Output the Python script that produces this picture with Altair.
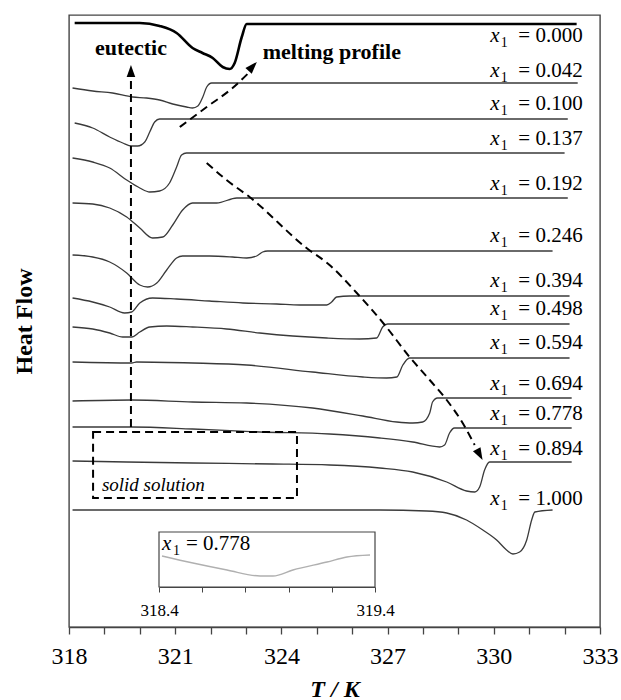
import altair as alt
import pandas as pd

FONT = "Liberation Serif"

# ---------------- data (T in K, heat flow in arbitrary units, stacked) ----------------
compositions = ["0.000", "0.042", "0.100", "0.137", "0.192", "0.246", "0.394",
                "0.498", "0.594", "0.694", "0.778", "0.894", "1.000"]

T_000 = [318.16, 320.00, 320.56, 321.04, 321.49, 321.77, 322.06, 322.34, 322.54, 322.68, 322.88, 323.02, 332.34]
HF_000 = [60.4, 60.4, 60.1, 59.4, 57.9, 57.4, 56.9, 56.0, 55.8, 56.4, 59.0, 60.3, 60.3]

T_042 = [318.10, 318.67, 319.23, 319.80, 320.19, 320.56, 320.93, 321.32, 321.49, 321.64, 321.78, 321.89, 322.03, 332.37]
HF_042 = [53.9, 53.6, 53.4, 53.0, 52.9, 52.7, 52.3, 52.0, 51.9, 52.1, 53.0, 54.0, 54.4, 54.4]

T_100 = [318.16, 318.67, 319.15, 319.52, 319.77, 319.94, 320.14, 320.28, 320.42, 320.56, 332.09]
HF_100 = [50.4, 49.9, 49.0, 48.4, 48.1, 48.1, 48.5, 49.5, 50.5, 50.8, 50.8]

T_137 = [318.10, 318.67, 319.15, 319.63, 320.00, 320.28, 320.56, 320.84, 321.04, 321.18, 321.32, 332.00]
HF_137 = [46.9, 46.5, 45.9, 44.7, 43.9, 43.5, 43.6, 44.4, 46.0, 47.2, 47.4, 47.4]

T_192 = [318.10, 318.67, 319.15, 319.63, 320.00, 320.36, 320.65, 320.93, 321.21, 321.49, 322.17, 322.74, 323.02, 332.09]
HF_192 = [42.4, 42.3, 41.9, 41.0, 39.9, 38.9, 39.0, 40.2, 41.7, 42.4, 42.4, 42.9, 42.9, 42.9]

T_246 = [318.10, 318.67, 319.15, 319.63, 320.00, 320.22, 320.48, 320.76, 321.04, 321.21, 321.97, 322.62, 323.02, 323.30, 323.47, 323.61, 331.66]
HF_246 = [37.2, 37.0, 36.5, 35.4, 34.2, 34.0, 34.4, 35.7, 36.9, 37.1, 37.1, 37.0, 36.9, 37.1, 37.5, 37.6, 37.6]

T_394 = [318.10, 318.67, 319.15, 319.57, 319.77, 320.00, 320.36, 321.04, 321.97, 322.91, 323.87, 324.52, 325.28, 325.42, 325.56, 325.93, 332.14]
HF_394 = [32.9, 32.5, 32.0, 31.4, 31.5, 32.4, 32.9, 32.8, 32.6, 32.4, 32.3, 32.2, 32.2, 32.5, 33.0, 33.1, 33.1]

T_498 = [318.10, 318.67, 319.15, 319.52, 319.77, 320.00, 320.28, 320.76, 321.49, 322.45, 323.39, 324.32, 325.28, 326.21, 326.69, 326.86, 327.00, 332.14]
HF_498 = [30.0, 29.8, 29.4, 29.0, 29.0, 29.5, 30.0, 30.1, 30.0, 29.8, 29.4, 29.1, 28.9, 28.8, 28.9, 30.0, 30.3, 30.3]

T_594 = [318.10, 319.77, 319.91, 321.49, 323.02, 324.88, 326.30, 326.97, 327.26, 327.43, 327.62, 332.14]
HF_594 = [26.5, 26.4, 26.5, 26.4, 26.2, 25.5, 25.0, 24.9, 25.0, 26.2, 26.9, 26.9]

T_694 = [318.10, 319.77, 321.49, 323.02, 324.88, 326.30, 327.26, 327.71, 327.99, 328.19, 328.27, 328.41, 332.20]
HF_694 = [22.6, 22.7, 22.5, 22.4, 21.9, 21.1, 20.5, 20.4, 20.5, 21.4, 22.5, 22.9, 22.9]

T_778 = [318.10, 319.77, 321.49, 323.39, 325.36, 326.78, 327.71, 328.47, 328.61, 328.75, 328.89, 332.20]
HF_778 = [20.0, 20.0, 19.8, 19.5, 19.3, 18.9, 18.5, 18.0, 18.2, 19.4, 19.9, 19.9]

T_894 = [318.10, 319.63, 321.49, 323.75, 325.36, 326.78, 327.71, 328.67, 329.23, 329.46, 329.60, 329.74, 329.88, 332.20]
HF_894 = [16.6, 16.5, 16.4, 16.3, 16.2, 15.9, 15.5, 14.5, 13.6, 13.5, 14.0, 15.7, 16.5, 16.5]

T_1000 = [318.10, 326.78, 328.10, 328.67, 329.23, 329.69, 330.08, 330.36, 330.54, 330.73, 330.93, 331.07, 331.16, 331.66]
HF_1000 = [11.7, 11.7, 11.6, 11.4, 10.7, 9.7, 8.7, 7.7, 7.3, 7.5, 8.7, 10.7, 11.5, 11.7]

# label anchors (right end of each "x1 = ..." label)
label_T = 332.51
label_hf = [58.5, 55.0, 51.7, 48.2, 43.7, 38.5, 34.0, 31.2, 27.8, 23.7, 20.7, 17.2, 12.2]

# inset (x1 = 0.778, 318.4 - 319.4 K)
inset_T = [318.414, 318.557, 318.715, 318.868, 318.928, 319.02, 319.178, 319.27, 319.377]
inset_hf = [7.1, 6.4, 5.7, 5.1, 5.1, 5.7, 6.5, 7.0, 7.2]
inset_ticks = [318.4, 318.6, 318.8, 319.0, 319.2, 319.4]
main_ticks = list(range(318, 334))

# dashed guide arrows
eutectic_T = [319.75, 319.75]
eutectic_hf = [20.0, 55.3]
melting_T = [321.13, 321.89, 322.62, 323.10]
melting_hf = [50.0, 52.0, 53.9, 55.5]
trend_T = [321.89, 322.45, 323.10, 324.71, 325.36, 326.13, 326.92, 327.62, 328.19, 328.67, 329.12, 329.46]
trend_hf = [46.4, 44.7, 43.0, 37.9, 36.2, 33.4, 30.2, 27.0, 24.7, 22.7, 20.4, 18.2]
head_T = [319.75, 323.19, 329.60]
head_hf = [55.6, 56.06, 17.23]
head_angle = [0, 42.7, 151.6]

# ---------------- tables ----------------
curve_T = [T_000, T_042, T_100, T_137, T_192, T_246, T_394, T_498, T_594, T_694, T_778, T_894, T_1000]
curve_HF = [HF_000, HF_042, HF_100, HF_137, HF_192, HF_246, HF_394, HF_498, HF_594, HF_694, HF_778, HF_894, HF_1000]

rows = []
for comp, ts, hs in zip(compositions, curve_T, curve_HF):
    for i, (t, h) in enumerate(zip(ts, hs)):
        rows.append({"comp": comp, "i": i, "T": t, "hf": h})
curves = pd.DataFrame(rows)

labels = pd.DataFrame({"comp": compositions, "T": [label_T] * len(compositions),
                       "hf": label_hf, "eq": ["= " + c for c in compositions]})

arrow_rows = []
for name, ts, hs in [("melting", melting_T, melting_hf), ("trend", trend_T, trend_hf)]:
    for i, (t, h) in enumerate(zip(ts, hs)):
        arrow_rows.append({"arrow": name, "i": i, "T": t, "hf": h})
arrows = pd.DataFrame(arrow_rows)
eutectic = pd.DataFrame({"T": eutectic_T, "hf": eutectic_hf})
heads = pd.DataFrame({"T": head_T, "hf": head_hf, "ang": head_angle})

box = pd.DataFrame({"T": [318.68], "T2": [324.44], "hf": [12.9], "hf2": [19.5]})
note_eut = pd.DataFrame({"T": [319.75], "hf": [57.2], "txt": ["eutectic"]})
note_melt = pd.DataFrame({"T": [323.47], "hf": [56.8], "txt": ["melting profile"]})
note_ss = pd.DataFrame({"T": [318.93], "hf": [13.6], "txt": ["solid solution"]})

inset_df = pd.DataFrame({"T": inset_T, "hf": inset_hf})
inset_frame = pd.DataFrame({"T": [318.4], "T2": [319.4], "hf": [4.0], "hf2": [9.5]})
inset_lab = pd.DataFrame({"T": [318.414], "hf": [7.7]})

# ---------------- scales / encodings ----------------
xs = alt.Scale(domain=[318, 333], nice=False, zero=False)
ys = alt.Scale(domain=[0, 61.2], nice=False, zero=False)

main_axis = alt.Axis(values=main_ticks, tickCount=16,
                     labelExpr="datum.value % 3 === 0 ? datum.label : ''",
                     labelOverlap=False, labelFlush=False,
                     grid=False, tickSize=7, tickColor="#444", domainColor="#444",
                     domainWidth=1.3, tickWidth=1.3,
                     labelFont=FONT, labelFontSize=24, labelColor="black",
                     labelPadding=10, titleFont=FONT, titleFontSize=24,
                     titleFontWeight="bold", titleFontStyle="italic",
                     titleColor="black", titlePadding=9)
X = alt.X("T:Q", scale=xs, title="T / K", axis=main_axis)
Y = alt.Y("hf:Q", scale=ys, title="Heat Flow",
          axis=alt.Axis(labels=False, ticks=False, domain=False, grid=False,
                        titleFont=FONT, titleFontSize=24, titleFontWeight="bold",
                        titleColor="black", titlePadding=33))

base = alt.Chart(curves)
thin = base.transform_filter(alt.datum.comp != "0.000").mark_line(
    interpolate="monotone", color="#3a3a3a", strokeWidth=1.3
).encode(x=X, y=Y, detail="comp:N", order="i:Q")
thick = base.transform_filter(alt.datum.comp == "0.000").mark_line(
    interpolate="monotone", color="black", strokeWidth=2.6
).encode(x=X, y=Y, order="i:Q")

lab_eq = alt.Chart(labels).mark_text(align="right", baseline="alphabetic", font=FONT,
                                     fontSize=21, color="black").encode(
    x=X, y=Y, text="eq:N")
lab_sub = alt.Chart(labels).mark_text(align="right", baseline="alphabetic", font=FONT,
                                      fontSize=14, color="black", dx=-75, dy=5).encode(
    x=X, y=Y, text=alt.value("1"))
lab_x = alt.Chart(labels).mark_text(align="right", baseline="alphabetic", font=FONT,
                                    fontSize=21, fontStyle="italic", color="black",
                                    dx=-83).encode(
    x=X, y=Y, text=alt.value("x"))

dash = [8, 5]
eut_line = alt.Chart(eutectic).mark_line(color="black", strokeWidth=2, strokeDash=dash).encode(
    x=X, y=Y)
arrow_lines = alt.Chart(arrows).mark_line(color="black", strokeWidth=2, strokeDash=dash,
                                          interpolate="monotone").encode(
    x=X, y=Y, detail="arrow:N", order="i:Q")
arrow_heads = alt.Chart(heads).mark_point(shape="M0,-1L0.7,1L-0.7,1Z", filled=True,
                                          color="black", opacity=1, size=150).encode(
    x=X, y=Y, angle=alt.Angle("ang:Q", scale=None))

box_mark = alt.Chart(box).mark_rect(fillOpacity=0, stroke="black", strokeWidth=2,
                                    strokeDash=dash).encode(
    x=X, x2="T2:Q", y=Y, y2="hf2:Q")

t_eut = alt.Chart(note_eut).mark_text(align="center", baseline="alphabetic", font=FONT, fontSize=22,
                                      fontWeight="bold", color="black").encode(
    x=X, y=Y, text="txt:N")
t_melt = alt.Chart(note_melt).mark_text(align="left", baseline="alphabetic", font=FONT, fontSize=22,
                                        fontWeight="bold", color="black").encode(
    x=X, y=Y, text="txt:N")
t_ss = alt.Chart(note_ss).mark_text(align="left", baseline="alphabetic", font=FONT, fontSize=19,
                                    fontStyle="italic", color="black").encode(
    x=X, y=Y, text="txt:N")

main = alt.layer(thin, thick, lab_eq, lab_sub, lab_x, eut_line, arrow_lines, arrow_heads,
                 box_mark, t_eut, t_melt, t_ss)

# ---------------- inset ----------------
XI = alt.X("T:Q", scale=alt.Scale(domain=[318.4, 319.4], range=[90, 306], nice=False, zero=False),
           title=None,
           axis=alt.Axis(orient="bottom", offset=-40, values=inset_ticks, format=".1f",
                         labelExpr="(datum.value < 318.45 || datum.value > 319.35) ? datum.label : ''",
                         grid=False, tickSize=5, tickColor="#444", domainColor="#444",
                         labelFont=FONT, labelFontSize=17, labelColor="black",
                         labelPadding=10, labelFlush=False, labelOverlap=False))
inset_frame_mark = alt.Chart(inset_frame).mark_rect(fillOpacity=0, stroke="#444", strokeWidth=1.2).encode(
    x=XI, x2="T2:Q", y=Y, y2="hf2:Q")
inset_line = alt.Chart(inset_df).mark_line(color="#b0b0b0", strokeWidth=1.4, interpolate="monotone").encode(
    x=XI, y=Y)
in_x = alt.Chart(inset_lab).mark_text(align="left", baseline="alphabetic", font=FONT, fontSize=21,
                                      fontStyle="italic", color="black").encode(
    x=XI, y=Y, text=alt.value("x"))
in_sub = alt.Chart(inset_lab).mark_text(align="left", baseline="alphabetic", font=FONT, fontSize=14,
                                        color="black", dx=11, dy=5).encode(
    x=XI, y=Y, text=alt.value("1"))
in_eq = alt.Chart(inset_lab).mark_text(align="left", baseline="alphabetic", font=FONT, fontSize=21,
                                       color="black", dx=24).encode(
    x=XI, y=Y, text=alt.value("= 0.778"))
inset = alt.layer(inset_frame_mark, inset_line, in_x, in_sub, in_eq)

chart = alt.layer(main, inset).resolve_scale(x="independent").properties(
    width=531, height=612,
    padding={"left": 69, "top": 15, "right": 21, "bottom": 73},
    autosize=alt.AutoSizeParams(type="none"),
).configure_view(stroke="#444", strokeWidth=1.4).configure_axis(
    labelFont=FONT, titleFont=FONT)

chart.save("out.html", embed_options={"renderer": "svg", "actions": False})
